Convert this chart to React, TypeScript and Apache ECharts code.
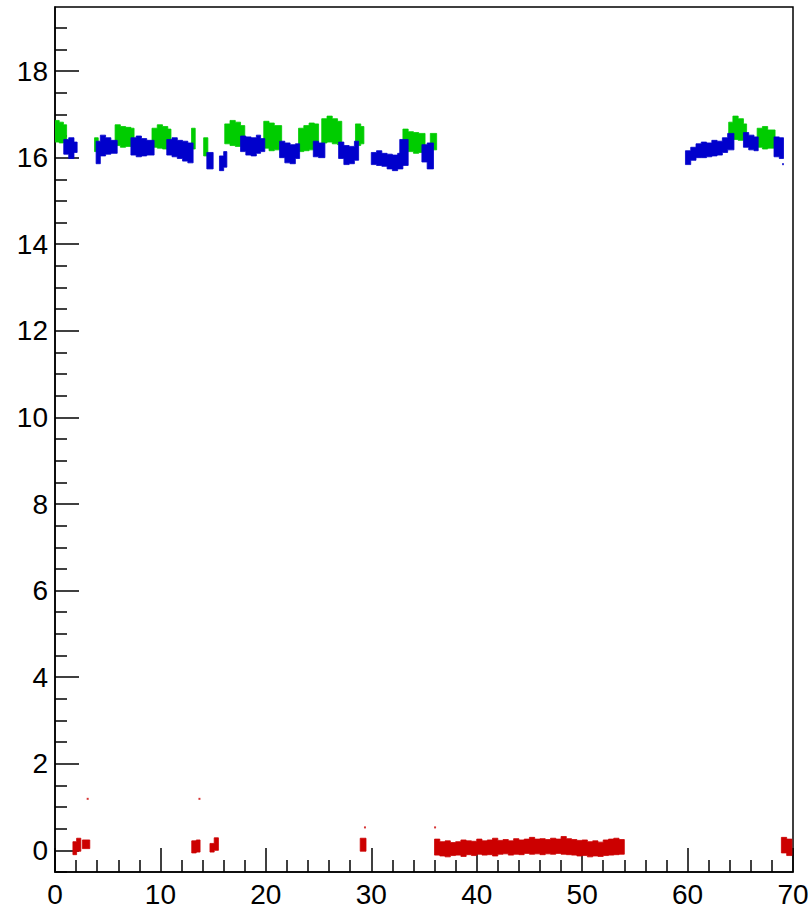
import React, { useEffect, useRef } from "react";
import * as echarts from "echarts";

// Each band is a list of blocks: [xStart, xEnd, yLow, yHigh]
const greenBlocks: number[][] = [
  [0, 0.4, 16.36, 16.86], [0.4, 0.8, 16.34, 16.82], [0.8, 1.1, 16.38, 16.76],
  [3.75, 4.1, 16.14, 16.46],
  [5.7, 6.2, 16.28, 16.76], [6.2, 6.7, 16.24, 16.72], [6.7, 7.2, 16.26, 16.7], [7.2, 7.5, 16.3, 16.68],
  [9.2, 9.7, 16.24, 16.68], [9.7, 10.2, 16.22, 16.76], [10.2, 10.7, 16.2, 16.72], [10.7, 11.0, 16.24, 16.66],
  [12.95, 13.3, 16.2, 16.68],
  [14.1, 14.5, 16.04, 16.46],
  [16.1, 16.6, 16.32, 16.78], [16.6, 17.1, 16.28, 16.86], [17.1, 17.6, 16.26, 16.82], [17.6, 18.0, 16.3, 16.74],
  [19.8, 20.3, 16.22, 16.84], [20.3, 20.8, 16.16, 16.8], [20.8, 21.5, 16.18, 16.74],
  [23.1, 23.6, 16.14, 16.68], [23.6, 24.1, 16.16, 16.74], [24.1, 24.6, 16.18, 16.8], [24.6, 25.0, 16.22, 16.78],
  [25.3, 25.8, 16.34, 16.9], [25.8, 26.3, 16.36, 16.96], [26.3, 26.8, 16.32, 16.9], [26.8, 27.2, 16.3, 16.84],
  [28.5, 29.0, 16.28, 16.78], [29.0, 29.3, 16.32, 16.72],
  [33.0, 33.5, 16.2, 16.66], [33.5, 34.0, 16.14, 16.6], [34.0, 34.5, 16.1, 16.58], [34.5, 35.1, 16.12, 16.56],
  [35.6, 36.2, 16.18, 16.56],
  [63.9, 64.3, 16.46, 16.82], [64.3, 64.8, 16.42, 16.96], [64.8, 65.3, 16.4, 16.9], [65.3, 65.6, 16.44, 16.78],
  [66.6, 67.1, 16.24, 16.68], [67.1, 67.6, 16.2, 16.72], [67.6, 68.3, 16.22, 16.64],
];

const blueBlocks: number[][] = [
  [0.83, 1.3, 16.08, 16.42], [1.3, 1.8, 15.98, 16.46], [1.8, 2.1, 16.12, 16.36],
  [3.9, 4.3, 15.86, 16.38], [4.3, 4.8, 16.04, 16.52], [4.8, 5.3, 16.08, 16.46], [5.3, 5.9, 16.1, 16.4],
  [7.2, 7.7, 16.06, 16.46], [7.7, 8.2, 16.02, 16.5], [8.2, 8.7, 16.04, 16.44], [8.7, 9.4, 16.06, 16.4],
  [10.6, 11.1, 16.06, 16.42], [11.1, 11.6, 16.02, 16.46], [11.6, 12.1, 15.98, 16.4], [12.1, 12.6, 15.92, 16.38], [12.6, 13.1, 15.88, 16.34],
  [14.4, 15.0, 15.74, 16.12],
  [15.6, 16.0, 15.7, 16.04], [16.0, 16.3, 15.78, 16.14],
  [17.6, 18.1, 16.14, 16.5], [18.1, 18.6, 16.06, 16.48], [18.6, 19.1, 16.04, 16.46], [19.1, 19.5, 16.1, 16.52], [19.5, 19.9, 16.14, 16.44],
  [21.3, 21.8, 16.0, 16.38], [21.8, 22.3, 15.88, 16.34], [22.3, 22.8, 15.86, 16.3], [22.8, 23.2, 15.98, 16.32],
  [24.5, 25.0, 16.02, 16.38], [25.0, 25.6, 16.0, 16.34],
  [26.9, 27.4, 15.98, 16.36], [27.4, 27.9, 15.84, 16.28], [27.9, 28.4, 15.86, 16.26], [28.4, 28.8, 15.94, 16.38],
  [30.0, 30.5, 15.84, 16.12], [30.5, 31.0, 15.82, 16.16], [31.0, 31.5, 15.8, 16.1], [31.5, 32.0, 15.74, 16.08], [32.0, 32.5, 15.7, 16.06], [32.5, 33.0, 15.74, 16.1],
  [32.7, 33.5, 15.82, 16.42],
  [34.8, 35.3, 15.9, 16.3], [35.3, 35.9, 15.74, 16.34],
  [59.8, 60.3, 15.84, 16.16], [60.3, 60.8, 15.94, 16.24], [60.8, 61.3, 16.0, 16.32], [61.3, 61.8, 16.0, 16.36], [61.8, 62.3, 16.02, 16.34],
  [62.3, 62.8, 16.04, 16.4], [62.8, 63.3, 16.06, 16.38], [63.3, 63.8, 16.12, 16.46], [63.8, 64.4, 16.18, 16.56],
  [65.3, 65.8, 16.24, 16.58], [65.8, 66.3, 16.18, 16.52], [66.3, 66.7, 16.16, 16.48],
  [68.2, 68.7, 16.02, 16.48], [68.7, 69.1, 15.98, 16.46],
];

// Long red run from 36 to 54 in half-unit steps
const redRunX = [
  36.0, 36.5, 37.0, 37.5, 38.0, 38.5, 39.0, 39.5, 40.0, 40.5, 41.0, 41.5, 42.0, 42.5, 43.0, 43.5, 44.0, 44.5,
  45.0, 45.5, 46.0, 46.5, 47.0, 47.5, 48.0, 48.5, 49.0, 49.5, 50.0, 50.5, 51.0, 51.5, 52.0, 52.5, 53.0, 53.5,
];
const redRunHigh = [
  0.26, 0.2, 0.22, 0.18, 0.2, 0.24, 0.22, 0.21, 0.26, 0.22, 0.24, 0.28, 0.23, 0.25, 0.22, 0.27, 0.24, 0.26,
  0.3, 0.26, 0.27, 0.25, 0.28, 0.26, 0.32, 0.27, 0.25, 0.23, 0.24, 0.2, 0.22, 0.19, 0.24, 0.26, 0.28, 0.25,
];
const redRunLow = [
  -0.11, -0.13, -0.15, -0.12, -0.11, -0.14, -0.1, -0.12, -0.09, -0.11, -0.1, -0.13, -0.09, -0.08, -0.11, -0.09, -0.1, -0.07,
  -0.09, -0.08, -0.1, -0.08, -0.09, -0.07, -0.09, -0.1, -0.11, -0.13, -0.12, -0.15, -0.13, -0.14, -0.12, -0.11, -0.1, -0.09,
];

const redBlocks: number[][] = [
  [1.7, 2.05, -0.1, 0.2], [2.05, 2.45, -0.02, 0.28],
  [2.6, 3.3, 0.04, 0.24],
  [12.97, 13.4, -0.06, 0.22], [13.4, 13.76, -0.04, 0.24],
  [14.7, 15.1, -0.04, 0.16], [15.1, 15.5, 0.0, 0.29],
  [28.95, 29.5, -0.02, 0.28],
  [68.9, 69.4, -0.06, 0.3], [69.4, 69.9, -0.12, 0.26],
];

// Isolated single points
const redPoints: number[][] = [[3.1, 1.19], [13.7, 1.19], [29.4, 0.53], [36.05, 0.53]];
const bluePoints: number[][] = [[69.05, 15.85]];

const xTicks = { min: 0, max: 70, step: 10 };
const yMajorTicks = [0, 2, 4, 6, 8, 10, 12, 14, 16, 18];
const yMinorTicks = [-0.5, 0.5, 1, 1.5, 2.5, 3, 3.5, 4.5, 5, 5.5, 6.5, 7, 7.5, 8.5, 9, 9.5, 10.5, 11, 11.5,
  12.5, 13, 13.5, 14.5, 15, 15.5, 16.5, 17, 17.5, 18.5, 19];

const GREEN = "#00cc00";
const BLUE = "#0000cc";
const RED = "#cc0000";

// Join blocks that touch end-to-start into one continuous run
function groupRuns(blocks: number[][]): number[][][] {
  const runs: number[][][] = [];
  let cur: number[][] = [];
  for (const b of blocks) {
    if (cur.length && Math.abs(cur[cur.length - 1][1] - b[0]) < 1e-9) {
      cur.push(b);
    } else {
      if (cur.length) runs.push(cur);
      cur = [b];
    }
  }
  if (cur.length) runs.push(cur);
  return runs;
}

// One stepped polygon per run: upper edge left-to-right, lower edge back
function bandSeries(name: string, blocks: number[][], color: string) {
  const runs = groupRuns(blocks);
  const data = runs.map((r) => [
    r[0][0],
    r[r.length - 1][1],
    Math.min(...r.map((b) => b[2])),
    Math.max(...r.map((b) => b[3])),
  ]);
  return {
    name,
    type: "custom",
    data,
    encode: { x: [0, 1], y: [2, 3] },
    clip: true,
    renderItem: (params: any, api: any) => {
      const run = runs[params.dataIndex];
      const top: number[][] = [];
      const bottom: number[][] = [];
      for (const b of run) {
        top.push(api.coord([b[0], b[3]]), api.coord([b[1], b[3]]));
        bottom.push(api.coord([b[0], b[2]]), api.coord([b[1], b[2]]));
      }
      return {
        type: "polygon",
        shape: { points: top.concat(bottom.reverse()) },
        style: { fill: color, stroke: color, lineWidth: 0.8 },
      };
    },
  };
}

export default function App() {
  const ref = useRef<HTMLDivElement>(null);

  useEffect(() => {
    if (!ref.current) return;
    const chart = echarts.init(ref.current, null, { renderer: "svg" });
    const redRun = redRunX.map((x, i) => [x, x + 0.5, redRunLow[i], redRunHigh[i]]);
    const axisFont = { fontFamily: "Liberation Sans, Arial, Helvetica, sans-serif", fontSize: 28, color: "#000" };
    const tickStyle = { color: "#000", width: 1.5 };

    chart.setOption({
      animation: false,
      backgroundColor: "#fff",
      grid: {
        left: 55, right: 15, top: 7, bottom: 42,
        show: true, borderColor: "#000", borderWidth: 1.5,
        containLabel: false, outerBoundsMode: "none",
      },
      xAxis: {
        type: "value",
        min: xTicks.min, max: xTicks.max, interval: xTicks.step,
        axisLine: { show: true, onZero: false, lineStyle: { color: "#000", width: 1.5 } },
        axisTick: { show: true, inside: true, length: 24, lineStyle: tickStyle },
        minorTick: { show: true, splitNumber: 5, length: 12, lineStyle: tickStyle },
        axisLabel: { ...axisFont, margin: 8 },
        splitLine: { show: false },
        minorSplitLine: { show: false },
      },
      yAxis: [
        {
          type: "value",
          min: -0.5, max: 19.48,
          axisLine: { show: true, onZero: false, lineStyle: { color: "#000", width: 1.5 } },
          axisTick: { show: true, inside: true, length: 24, lineStyle: tickStyle, customValues: yMajorTicks },
          axisLabel: { ...axisFont, margin: 7, customValues: yMajorTicks },
          splitLine: { show: false },
        },
        {
          type: "value",
          position: "left",
          min: -0.5, max: 19.48,
          axisLine: { show: false },
          axisTick: { show: true, inside: true, length: 12, lineStyle: tickStyle, customValues: yMinorTicks },
          axisLabel: { show: false },
          splitLine: { show: false },
        },
      ],
      series: [
        bandSeries("green", greenBlocks, GREEN),
        bandSeries("blue", blueBlocks, BLUE),
        bandSeries("red", redBlocks, RED),
        bandSeries("redRun", redRun, RED),
        {
          name: "redPoints", type: "scatter", data: redPoints,
          symbol: "rect", symbolSize: 2, itemStyle: { color: RED },
        },
        {
          name: "bluePoints", type: "scatter", data: bluePoints,
          symbol: "rect", symbolSize: 2, itemStyle: { color: BLUE },
        },
      ],
    });
    return () => chart.dispose();
  }, []);

  return (
    <div
      ref={ref}
      style={{ position: "fixed", left: 0, top: 0, width: 808, height: 914, background: "#fff" }}
    />
  );
}
